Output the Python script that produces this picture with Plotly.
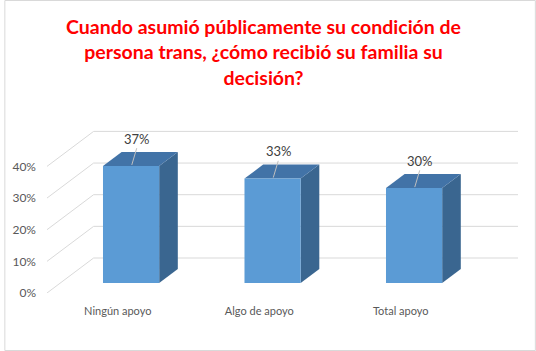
import plotly.graph_objects as go

# ---- data ----
categories = ["Ningún apoyo", "Algo de apoyo", "Total apoyo"]
values = [37, 33, 30]
labels = ["37%", "33%", "30%"]
y_ticks = [0, 10, 20, 30, 40]
y_tick_labels = ["0%", "10%", "20%", "30%", "40%"]

title = ("Cuando asumió públicamente su condición de<br>"
         "persona trans, ¿cómo recibió su familia su<br>decisión?")

# ---- 3D projection constants (data units) ----
W, H = 536, 351
ml, mr, mt, mb = 43, 18, 118, 58
px_per_x = 142.7                      # pixels per category unit
plot_w = W - ml - mr
plot_h = H - mt - mb
x0r = -0.5
x1r = x0r + plot_w / px_per_x
px_per_y = 3.165                      # pixels per percent
y1r = plot_h / px_per_y

DEPTH_DX = 47 / px_per_x              # full depth shift (back wall)
DEPTH_DY = 35 / px_per_y
bar_front_d = 0.286
bar_depth_d = 0.40
bar_w = 0.397

front_col = "#5B9BD5"
top_col = "#4273A7"
side_col = "#3A6690"
grid_col = "#D9D9D9"

fig = go.Figure()

# back wall + left wall gridlines
for v in y_ticks:
    fig.add_trace(go.Scatter(
        x=[x0r, x0r + DEPTH_DX, x1r],
        y=[v, v + DEPTH_DY, v + DEPTH_DY],
        mode="lines", line=dict(color=grid_col, width=1),
        hoverinfo="skip", showlegend=False))

# bars
for i, v in enumerate(values):
    fx = bar_front_d * DEPTH_DX
    fy = bar_front_d * DEPTH_DY
    ddx = bar_depth_d * DEPTH_DX
    ddy = bar_depth_d * DEPTH_DY
    xa = i - bar_w / 2 + fx
    xb = i + bar_w / 2 + fx
    ya = 0 + fy
    yb = v + fy
    # side face
    fig.add_trace(go.Scatter(
        x=[xb, xb + ddx, xb + ddx, xb, xb],
        y=[ya, ya + ddy, yb + ddy, yb, ya],
        fill="toself", fillcolor=side_col, mode="lines",
        line=dict(width=0, color=side_col), hoverinfo="skip", showlegend=False))
    # top face
    fig.add_trace(go.Scatter(
        x=[xa, xb, xb + ddx, xa + ddx, xa],
        y=[yb, yb, yb + ddy, yb + ddy, yb],
        fill="toself", fillcolor=top_col, mode="lines",
        line=dict(width=0, color=top_col), hoverinfo="skip", showlegend=False))
    # front face
    fig.add_trace(go.Scatter(
        x=[xa, xb, xb, xa, xa],
        y=[ya, ya, yb, yb, ya],
        fill="toself", fillcolor=front_col, mode="lines",
        line=dict(width=0, color=front_col), hoverinfo="skip", showlegend=False))
    # leader line and label
    cx = i + fx
    fig.add_trace(go.Scatter(
        x=[cx + 0.005, cx + 0.04],
        y=[yb + 0.3, yb + 5.6],
        mode="lines", line=dict(color="#BFBFBF", width=1),
        hoverinfo="skip", showlegend=False))
    fig.add_annotation(x=cx + 0.045, y=yb + 8.6, text=labels[i], showarrow=False,
                       yanchor="middle", xanchor="center",
                       font=dict(family="Lato", size=13, color="#404040"))

# title as annotation for exact placement
fig.add_annotation(xref="paper", yref="paper",
                   x=(261 - ml) / plot_w, y=(H - mb - 13) / plot_h,
                   xanchor="center", yanchor="top", showarrow=False,
                   text=title, align="center",
                   font=dict(family="Lato", size=19.5, color="#FF0000", weight="bold"))

fig.update_layout(
    width=W, height=H,
    margin=dict(l=ml, r=mr, t=mt, b=mb),
    paper_bgcolor="white", plot_bgcolor="white",
    xaxis=dict(range=[x0r, x1r], tickvals=[0, 1, 2], ticktext=categories,
               showgrid=False, zeroline=False, showline=False, ticks="",
               ticklabelstandoff=10,
               tickfont=dict(family="Lato", size=11, color="#595959")),
    yaxis=dict(range=[0, y1r], tickvals=y_ticks, ticktext=y_tick_labels,
               showgrid=False, zeroline=False, showline=False, ticks="",
               ticklabelstandoff=10,
               tickfont=dict(family="Lato", size=12, color="#595959")),
    shapes=[dict(type="rect", xref="paper", yref="paper",
                 x0=-ml / plot_w + 0.5 / plot_w, x1=1 + (mr - 0.5) / plot_w,
                 y0=-mb / plot_h + 0.5 / plot_h, y1=1 + (mt - 0.5) / plot_h,
                 line=dict(color="#D9D9D9", width=1))],
)

fig.write_html("out.html")
